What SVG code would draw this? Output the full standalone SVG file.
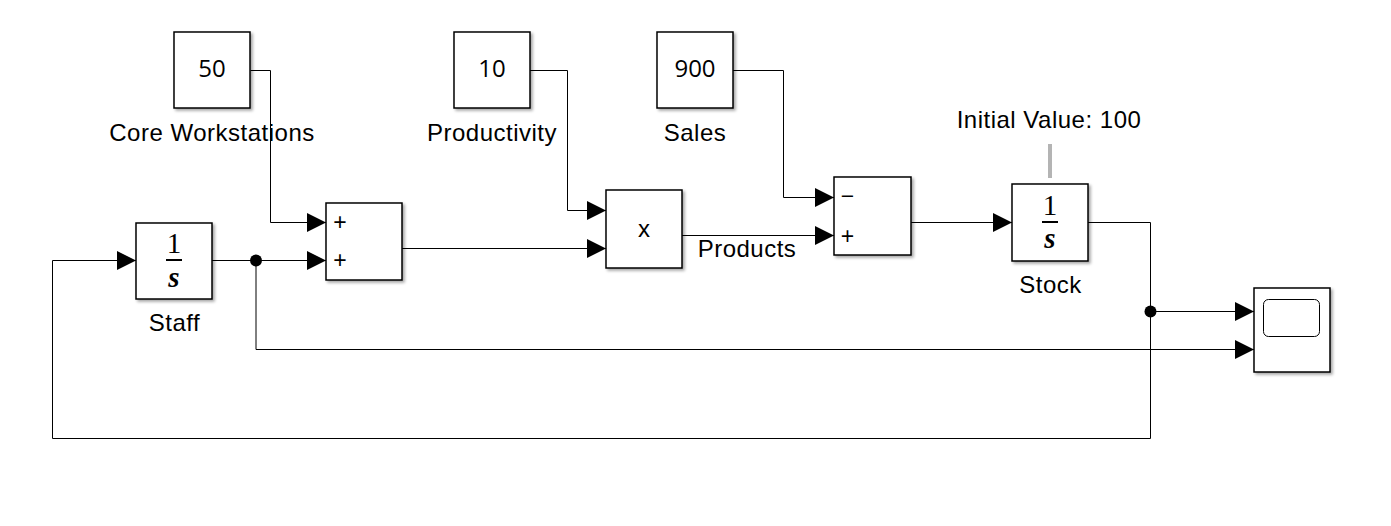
<svg xmlns="http://www.w3.org/2000/svg" width="1391" height="526" viewBox="0 0 1391 526">
<style>
.blk{fill:#fff;stroke:#000;stroke-width:1.5;filter:url(#sh)}
.w{fill:none;stroke:#000;stroke-width:1}
.arr{fill:none;stroke:#000;stroke-width:1;marker-end:url(#ah)}
.lbl{font-family:"Liberation Sans",Arial,sans-serif;font-size:24px;letter-spacing:0.5px;fill:#000;text-anchor:middle}
.num{font-family:"Open Sans","Noto Sans",sans-serif;font-size:24px;fill:#000;text-anchor:middle}
.x{font-family:"Liberation Sans",Arial,sans-serif;font-size:24px;fill:#000;text-anchor:middle}
.sign{font-family:"Liberation Sans",Arial,sans-serif;font-size:23px;fill:#000;text-anchor:middle;dominant-baseline:central}
.one{font-family:"Liberation Serif","Times New Roman",serif;font-size:29px;fill:#000;text-anchor:middle}
.s{font-family:"Liberation Serif","Times New Roman",serif;font-size:29px;font-style:italic;font-weight:bold;fill:#000;text-anchor:middle}
</style>
<defs>
<filter id="sh" x="-10%" y="-10%" width="130%" height="130%">
<feDropShadow dx="2" dy="2" stdDeviation="1.5" flood-color="#000" flood-opacity="0.35"/>
</filter>
<marker id="ah" markerUnits="userSpaceOnUse" markerWidth="20" markerHeight="20" refX="19" refY="9.5" orient="auto" overflow="visible">
<path d="M0,0 L19,9.5 L0,19 Z" fill="#000"/>
</marker>
</defs>
<rect width="1391" height="526" fill="#fff"/>

<g id="connectors">
<path class="arr" d="M250.5,70.5 H270.5 V222.5 H326"/>
<path class="arr" d="M212,260.5 H326"/>
<path class="arr" d="M256,260.5 V349.5 H1254"/>
<path class="arr" d="M402,248.5 H606"/>
<path class="arr" d="M530,70.5 H567.5 V210.5 H606"/>
<path class="arr" d="M682,235.5 H834"/>
<path class="arr" d="M733,70.5 H783.5 V197.5 H834"/>
<path class="arr" d="M911,222.5 H1012"/>
<path class="w" d="M1088,222.5 H1150.5 V438.5 H52.5 V260.5 H118"/>
<path class="arr" d="M118,260.5 H136"/>
<path class="arr" d="M1150.5,311.5 H1254"/>
<circle cx="256" cy="260.5" r="6" fill="#000"/>
<circle cx="1150.5" cy="311.5" r="6" fill="#000"/>
<text class="lbl" x="747" y="257">Products</text>
</g>

<g id="core-workstations">
<rect class="blk" x="174" y="32" width="76" height="76"/>
<text class="num" x="212" y="77">50</text>
<text class="lbl" x="212" y="141">Core Workstations</text>
</g>

<g id="productivity">
<rect class="blk" x="454" y="32" width="76" height="76"/>
<text class="num" x="492" y="77">10</text>
<text class="lbl" x="492" y="141">Productivity</text>
</g>

<g id="sales">
<rect class="blk" x="657" y="32" width="76" height="76"/>
<text class="num" x="695" y="77">900</text>
<text class="lbl" x="695" y="141">Sales</text>
</g>

<g id="staff">
<rect class="blk" x="136" y="223" width="76" height="76"/>
<text class="one" x="174" y="253">1</text>
<rect x="166" y="259" width="16" height="2" fill="#000"/>
<text class="s" x="174" y="287">s</text>
<text class="lbl" x="174.5" y="331">Staff</text>
</g>

<g id="sum1">
<rect class="blk" x="326" y="203" width="76" height="77"/>
<text class="sign" x="340" y="222">+</text>
<text class="sign" x="340" y="260">+</text>
</g>

<g id="product">
<rect class="blk" x="606" y="190" width="76" height="78"/>
<text class="x" x="644" y="237">x</text>
</g>

<g id="sum2">
<rect class="blk" x="834" y="177" width="77" height="78"/>
<text class="sign" x="847.5" y="196">−</text>
<text class="sign" x="847.5" y="236">+</text>
</g>

<g id="stock">
<rect x="1048" y="144" width="4" height="34" fill="#b4b4b4"/>
<text class="lbl" x="1049" y="128">Initial Value: 100</text>
<rect class="blk" x="1012" y="184" width="76" height="77"/>
<text class="one" x="1050" y="215">1</text>
<rect x="1042" y="221" width="16" height="2" fill="#000"/>
<text class="s" x="1050" y="248">s</text>
<text class="lbl" x="1050.5" y="293">Stock</text>
</g>

<g id="scope">
<rect class="blk" x="1254" y="288" width="76" height="84"/>
<rect x="1263.5" y="299.5" width="56" height="37" rx="5" fill="none" stroke="#000" stroke-width="1"/>
</g>
</svg>
